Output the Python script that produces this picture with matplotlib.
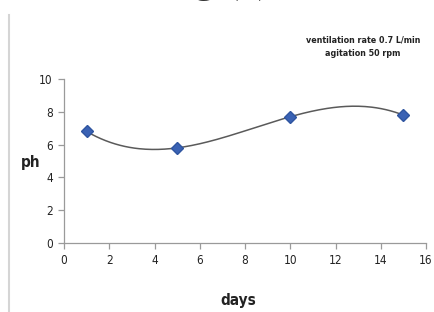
import numpy as np
import matplotlib
matplotlib.use("Agg")
import matplotlib.pyplot as plt
from matplotlib import font_manager
from matplotlib.font_manager import FontProperties

days = [1, 5, 10, 15]
ph = [6.8, 5.8, 7.7, 7.8]
xticks = [0, 2, 4, 6, 8, 10, 12, 14, 16]
yticks = [0, 2, 4, 6, 8, 10]

names = {f.name for f in font_manager.fontManager.ttflist}
stretch = 'normal'
if 'Liberation Sans Narrow' in names:
    fam = 'Liberation Sans Narrow'
else:
    fam = 'Roboto' if 'Roboto' in names else 'Liberation Sans'
    try:
        p = font_manager.findfont(FontProperties(family='DejaVu Sans', stretch='condensed'),
                                  fallback_to_default=False)
        if 'Condensed' in p:
            fam = 'DejaVu Sans'
            stretch = 'condensed'
    except Exception:
        pass
plt.rcParams['font.family'] = [fam, 'DejaVu Sans']
plt.rcParams['font.stretch'] = stretch

W, H = 434, 312
fig = plt.figure(figsize=(W / 100, H / 100), dpi=100)
ax = fig.add_axes([64 / W, (H - 243) / H, (426 - 64) / W, (243 - 79) / H])

# cubic trendline through the data (Excel polynomial order 3)
coef = np.polyfit(days, ph, 3)
xs = np.linspace(min(days), max(days), 200)
ax.plot(xs, np.polyval(coef, xs), color='#5a5a5a', lw=1.1, zorder=2)
ax.plot(days, ph, linestyle='none', marker='D', ms=6, color='#3a62b4',
        markeredgecolor='#2f55a0', zorder=3)

ax.set_xlim(0, 16)
ax.set_ylim(0, 10)
ax.set_xticks(xticks)
ax.set_yticks(yticks)
for s in ['top', 'right']:
    ax.spines[s].set_visible(False)
for s in ['left', 'bottom']:
    ax.spines[s].set_color('#9a9a9a')
    ax.spines[s].set_linewidth(0.9)
ax.tick_params(axis='both', colors='#9a9a9a', length=4, width=0.9,
               labelsize=8.5, labelcolor='#222222', pad=4)

ax.set_xlabel('days', fontsize=11, fontweight='bold', color='#222222', va='center')
ax.xaxis.set_label_coords((238 - 64) / (426 - 64), -(301 - 243) / (243 - 79))
ax.set_ylabel('ph', fontsize=11, fontweight='bold', rotation=0,
              va='center', ha='center', color='#222222')
ax.yaxis.set_label_coords((31 - 64) / (426 - 64), (243 - 162) / (243 - 79))

fig.text(363 / W, 1 - 47 / H, 'ventilation rate 0.7 L/min\nagitation 50 rpm',
         ha='center', va='center', fontsize=6.4, fontweight='bold',
         color='#222222', linespacing=1.6)

# cut-off title at top
fig.text(194 / W, 1 + 8 / H, 'g (a)', ha='left', va='baseline',
         fontsize=30, family='Liberation Serif', color='#333333')

# left border line
fig.add_artist(plt.Line2D([9 / W, 9 / W], [0, 1 - 15 / H], color='#d5d5d5',
                          lw=1.5, transform=fig.transFigure))

fig.savefig('out.png', dpi=100)
